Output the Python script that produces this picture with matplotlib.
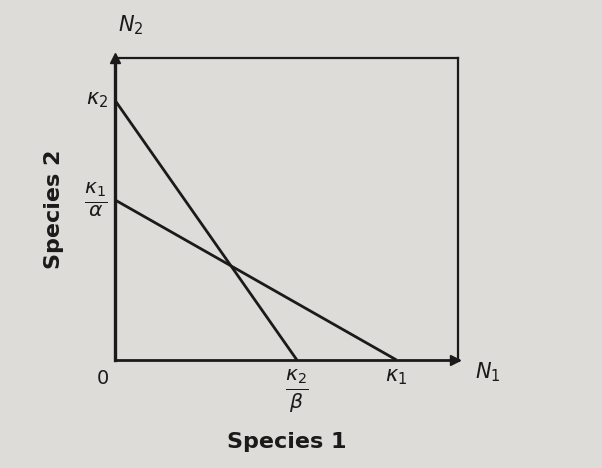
import matplotlib
matplotlib.use('Agg')
import matplotlib.pyplot as plt

# Lotka-Volterra competition isoclines (intercepts, arbitrary units 0-10)
K1 = 8.2          # species 1 isocline on N1 axis
K1_alpha = 5.3    # species 1 isocline on N2 axis
K2 = 8.6          # species 2 isocline on N2 axis
K2_beta = 5.3     # species 2 isocline on N1 axis

BG = '#dddcd8'
INK = '#1a1a1a'

fig = plt.figure(figsize=(6.02, 4.68), dpi=100, facecolor=BG)
ax = fig.add_axes([0.191, 0.231, 0.570, 0.645])
ax.set_facecolor(BG)
ax.set_xlim(0, 10)
ax.set_ylim(0, 10)

# isoclines
ax.plot([0, K2_beta], [K2, 0], color=INK, lw=2.0, solid_capstyle='butt')
ax.plot([0, K1], [K1_alpha, 0], color=INK, lw=2.0, solid_capstyle='butt')

for s in ax.spines.values():
    s.set_color(INK)
    s.set_linewidth(1.6)
ax.spines['left'].set_linewidth(2.4)
ax.spines['bottom'].set_linewidth(2.0)
ax.set_xticks([])
ax.set_yticks([])

# arrow heads on the axes
ax.plot(0, 10, marker='^', color=INK, ms=7, clip_on=False)
ax.plot(9.9, 0, marker='>', color=INK, ms=7, clip_on=False)

# axis symbols
ax.text(0.45, 10.7, '$N_2$', fontsize=15, ha='center', va='bottom', color=INK)
ax.text(10.5, -0.4, '$N_1$', fontsize=15, ha='left', va='center', color=INK)
ax.text(-0.35, -0.3, '0', fontsize=14, ha='center', va='top', color=INK)

# intercept labels
ax.text(-0.2, K2, r'$\kappa_2$', fontsize=15, ha='right', va='center', color=INK)
ax.text(-0.2, K1_alpha, r'$\frac{\kappa_1}{\alpha}$', fontsize=21,
        ha='right', va='center', color=INK)
ax.text(K2_beta, -0.25, r'$\frac{\kappa_2}{\beta}$', fontsize=21,
        ha='center', va='top', color=INK)
ax.text(K1, -0.25, r'$\kappa_1$', fontsize=15, ha='center', va='top', color=INK)

ax.set_xlabel('Species 1', fontsize=16, fontweight='bold', color=INK, labelpad=52)
ax.set_ylabel('Species 2', fontsize=16, fontweight='bold', color=INK, labelpad=37)

fig.savefig('out.png', dpi=100, facecolor=BG)
